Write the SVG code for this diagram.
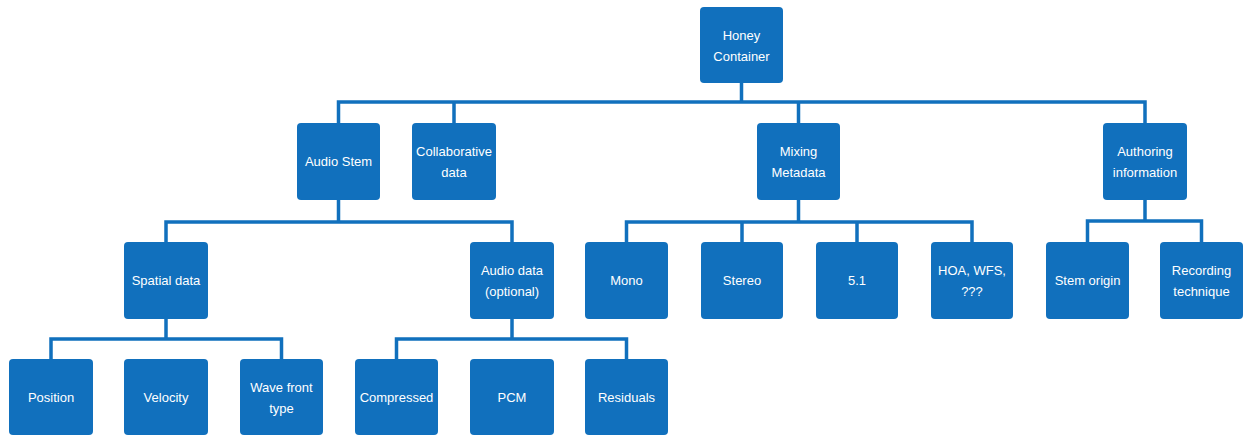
<svg xmlns="http://www.w3.org/2000/svg" width="1245" height="436" viewBox="0 0 1245 436">
<style>
.b{fill:#1170bd;}
.t{fill:#ffffff;font-family:"Liberation Sans",Arial,sans-serif;font-size:13px;text-anchor:middle;}
.c{fill:none;stroke:#1170bd;stroke-width:3.5;stroke-linejoin:miter;}
</style>
<rect width="1245" height="436" fill="#ffffff"/>
<g id="connectors">
<path class="c" d="M741.5 83V102M338.5 123V102H1145V123M454 102V123M798.5 102V123"/>
<path class="c" d="M338.5 200V222M166 242V222H512V242"/>
<path class="c" d="M798.5 200V222M626.5 242V222H972V242M742 222V242M857 222V242"/>
<path class="c" d="M1145 200V221M1087.5 242V221H1201.5V242"/>
<path class="c" d="M166 319V339M51 359V339H281.5V359"/>
<path class="c" d="M512 319V339M396.5 359V339H626.5V359"/>
</g>
<g id="honey"><rect class="b" x="700" y="7" width="83" height="76" rx="4"/><text class="t" x="741.5" y="39.5">Honey</text><text class="t" x="741.5" y="60.5">Container</text></g>
<g id="audiostem"><rect class="b" x="297" y="123" width="83" height="77" rx="4"/><text class="t" x="338.5" y="166">Audio Stem</text></g>
<g id="collab"><rect class="b" x="412" y="123" width="84" height="77" rx="4"/><text class="t" x="454" y="156">Collaborative</text><text class="t" x="454" y="177">data</text></g>
<g id="mixing"><rect class="b" x="757" y="123" width="83" height="77" rx="4"/><text class="t" x="798.5" y="156">Mixing</text><text class="t" x="798.5" y="177">Metadata</text></g>
<g id="authoring"><rect class="b" x="1103" y="123" width="84" height="77" rx="4"/><text class="t" x="1145" y="156">Authoring</text><text class="t" x="1145" y="177">information</text></g>
<g id="spatial"><rect class="b" x="124" y="242" width="84" height="77" rx="4"/><text class="t" x="166" y="285">Spatial data</text></g>
<g id="audiodata"><rect class="b" x="470" y="242" width="84" height="77" rx="4"/><text class="t" x="512" y="275">Audio data</text><text class="t" x="512" y="296">(optional)</text></g>
<g id="mono"><rect class="b" x="585" y="242" width="83" height="77" rx="4"/><text class="t" x="626.5" y="285">Mono</text></g>
<g id="stereo"><rect class="b" x="701" y="242" width="82" height="77" rx="4"/><text class="t" x="742" y="285">Stereo</text></g>
<g id="five1"><rect class="b" x="816" y="242" width="82" height="77" rx="4"/><text class="t" x="857" y="285">5.1</text></g>
<g id="hoa"><rect class="b" x="931" y="242" width="82" height="77" rx="4"/><text class="t" x="972" y="275">HOA, WFS,</text><text class="t" x="972" y="296">???</text></g>
<g id="stemorigin"><rect class="b" x="1046" y="242" width="83" height="77" rx="4"/><text class="t" x="1087.5" y="285">Stem origin</text></g>
<g id="recording"><rect class="b" x="1160" y="242" width="83" height="77" rx="4"/><text class="t" x="1201.5" y="275">Recording</text><text class="t" x="1201.5" y="296">technique</text></g>
<g id="position"><rect class="b" x="9" y="359" width="84" height="76" rx="4"/><text class="t" x="51" y="401.5">Position</text></g>
<g id="velocity"><rect class="b" x="124" y="359" width="84" height="76" rx="4"/><text class="t" x="166" y="401.5">Velocity</text></g>
<g id="wavefront"><rect class="b" x="240" y="359" width="83" height="76" rx="4"/><text class="t" x="281.5" y="391.5">Wave front</text><text class="t" x="281.5" y="412.5">type</text></g>
<g id="compressed"><rect class="b" x="355" y="359" width="83" height="76" rx="4"/><text class="t" x="396.5" y="401.5">Compressed</text></g>
<g id="pcm"><rect class="b" x="470" y="359" width="84" height="76" rx="4"/><text class="t" x="512" y="401.5">PCM</text></g>
<g id="residuals"><rect class="b" x="585" y="359" width="83" height="76" rx="4"/><text class="t" x="626.5" y="401.5">Residuals</text></g>
</svg>
